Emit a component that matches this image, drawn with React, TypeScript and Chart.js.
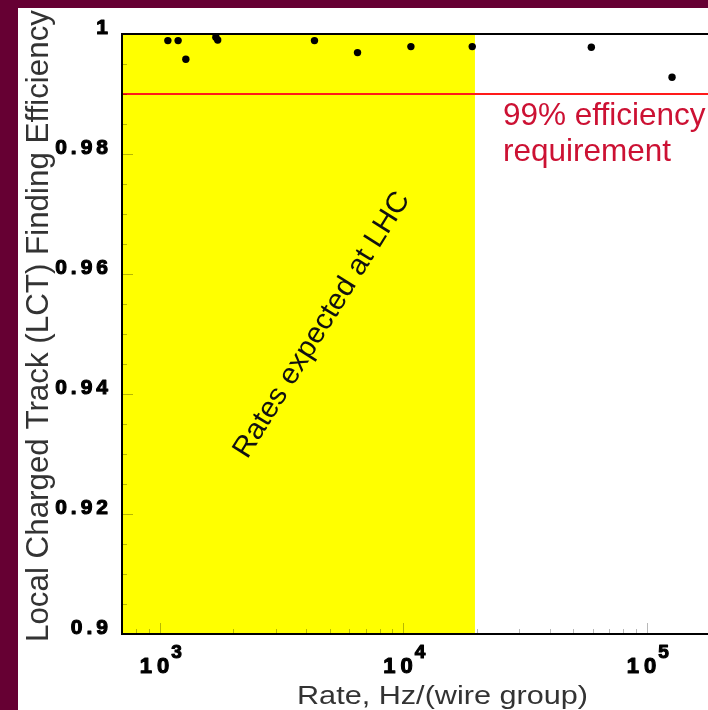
import React, { useEffect, useRef } from "react";
import { Chart, registerables } from "chart.js";

Chart.register(...registerables);

// ---- data ----
const rateHz = [1080, 1190, 1280, 1700, 1730, 4320, 6490, 10750, 19200, 59200, 127000];
const efficiency = [0.9989, 0.9989, 0.9958, 0.99945, 0.999, 0.9989, 0.9969, 0.9979, 0.9979, 0.9978, 0.9928];
const lhcRateRange = [700, 19700];
const requirementLevel = 0.99;
const xRange = [700, 333000];
const yRange = [0.9, 1.0];
const yTickValues = [0.9, 0.92, 0.94, 0.96, 0.98, 1.0];
const yTickLabels = ["0.9", "0.92", "0.94", "0.96", "0.98", "1"];
const yMinorStep = 0.005;
const xTickValues = [1000, 10000, 100000];
const xTickExponents = ["3", "4", "5"];
const xTitle = "Rate, Hz/(wire group)";
const yTitle = "Local Charged Track (LCT) Finding Efficiency";
const bandLabel = "Rates expected at LHC";
const requirementLabel = ["99% efficiency", "requirement"];

const CANVAS_W = 760;
const CANVAS_H = 702;

function spacedWidth(ctx: CanvasRenderingContext2D, text: string, spacing: number) {
  let w = 0;
  for (let i = 0; i < text.length; i++) {
    w += ctx.measureText(text[i]).width;
    if (i < text.length - 1) w += spacing;
  }
  return w;
}
function drawSpaced(ctx: CanvasRenderingContext2D, text: string, xLeft: number, y: number, spacing: number) {
  let x = xLeft;
  for (let i = 0; i < text.length; i++) {
    ctx.strokeText(text[i], x, y);
    ctx.fillText(text[i], x, y);
    x += ctx.measureText(text[i]).width + spacing;
  }
}

const decorPlugin = {
  id: "decor",
  afterDraw(chart: any) {
    const ctx: CanvasRenderingContext2D = chart.ctx;
    const xs = chart.scales.x;
    const ys = chart.scales.y;
    const area = chart.chartArea;
    ctx.save();

    // minor / major ticks (inside)
    ctx.strokeStyle = "rgba(0,0,0,0.28)";
    ctx.lineWidth = 1;
    for (let v = yRange[0]; v <= yRange[1] + 1e-9; v += yMinorStep) {
      const py = Math.round(ys.getPixelForValue(v)) + 0.5;
      const major = yTickValues.some((t) => Math.abs(t - v) < 1e-6);
      ctx.beginPath();
      ctx.moveTo(area.left, py);
      ctx.lineTo(area.left + (major ? 11 : 5), py);
      ctx.stroke();
    }
    for (let e = 2; e <= 5; e++) {
      for (let m = 1; m <= 9; m++) {
        const v = m * Math.pow(10, e);
        if (v < xRange[0] || v > xRange[1]) continue;
        const px = Math.round(xs.getPixelForValue(v)) + 0.5;
        ctx.beginPath();
        ctx.moveTo(px, area.bottom);
        ctx.lineTo(px, area.bottom - (m === 1 ? 11 : 5));
        ctx.stroke();
      }
    }

    // frame
    ctx.strokeStyle = "#000";
    ctx.lineWidth = 2;
    ctx.beginPath();
    ctx.moveTo(area.right, area.top);
    ctx.lineTo(area.left, area.top);
    ctx.lineTo(area.left, area.bottom);
    ctx.lineTo(area.right, area.bottom);
    ctx.stroke();

    // y tick labels
    ctx.fillStyle = "#000";
    ctx.strokeStyle = "#000";
    ctx.lineWidth = 1.1;
    ctx.lineJoin = "round";
    ctx.font = "bold 21px 'Liberation Sans', Arial, sans-serif";
    ctx.textBaseline = "middle";
    ctx.textAlign = "left";
    yTickValues.forEach((v, i) => {
      const py = ys.getPixelForValue(v) - 6;
      const w = spacedWidth(ctx, yTickLabels[i], 4);
      drawSpaced(ctx, yTickLabels[i], 90 - w, py, 4);
    });

    // x tick labels 10^n
    xTickValues.forEach((v, i) => {
      const px = xs.getPixelForValue(v);
      ctx.font = "bold 22px 'Liberation Sans', Arial, sans-serif";
      const wBase = spacedWidth(ctx, "10", 5);
      ctx.font = "bold 19px 'Liberation Sans', Arial, sans-serif";
      const wExp = ctx.measureText(xTickExponents[i]).width;
      const total = wBase + 2 + wExp;
      const left = px - total / 2 + 1;
      ctx.textBaseline = "alphabetic";
      ctx.font = "bold 22px 'Liberation Sans', Arial, sans-serif";
      drawSpaced(ctx, "10", left, area.bottom + 39, 5);
      ctx.font = "bold 19px 'Liberation Sans', Arial, sans-serif";
      ctx.strokeText(xTickExponents[i], left + wBase + 2, area.bottom + 24);
      ctx.fillText(xTickExponents[i], left + wBase + 2, area.bottom + 24);
    });

    // x title
    ctx.fillStyle = "#333";
    ctx.font = "26px 'Liberation Sans', Arial, sans-serif";
    ctx.textAlign = "center";
    ctx.textBaseline = "alphabetic";
    {
      const w = ctx.measureText(xTitle).width;
      ctx.save();
      ctx.translate(424.5, 696);
      ctx.scale(291 / w, 1);
      ctx.fillText(xTitle, 0, 0);
      ctx.restore();
    }

    // y title
    ctx.font = "31px 'Liberation Sans', Arial, sans-serif";
    {
      const w = ctx.measureText(yTitle).width;
      ctx.save();
      ctx.translate(21, 318);
      ctx.rotate(-Math.PI / 2);
      ctx.scale(632 / w, 1);
      ctx.textBaseline = "middle";
      ctx.fillText(yTitle, 0, 0);
      ctx.restore();
    }

    // band label (rotated)
    ctx.fillStyle = "#111";
    ctx.font = "29px 'Liberation Sans', Arial, sans-serif";
    {
      const w = ctx.measureText(bandLabel).width;
      ctx.save();
      ctx.translate(304, 317);
      ctx.rotate((-58 * Math.PI) / 180);
      ctx.scale(308 / w, 1);
      ctx.textBaseline = "middle";
      ctx.textAlign = "center";
      ctx.fillText(bandLabel, 0, 0);
      ctx.restore();
    }

    // requirement label
    ctx.fillStyle = "#cc1133";
    ctx.font = "31.5px 'Liberation Sans', Arial, sans-serif";
    ctx.textAlign = "left";
    ctx.textBaseline = "alphabetic";
    const ry = ys.getPixelForValue(requirementLevel);
    ctx.fillText(requirementLabel[0], 485, ry + 31);
    ctx.fillText(requirementLabel[1], 485, ry + 67);

    ctx.restore();
  },
};

export default function App() {
  const canvasRef = useRef<HTMLCanvasElement | null>(null);

  useEffect(() => {
    const canvas = canvasRef.current;
    if (!canvas) return;
    const chart = new Chart(canvas, {
      type: "line",
      data: {
        datasets: [
          {
            label: "LHC band",
            data: lhcRateRange.map((x) => ({ x, y: yRange[1] })),
            fill: "start",
            backgroundColor: "#ffff00",
            borderWidth: 0,
            pointRadius: 0,
            order: 3,
          },
          {
            label: "requirement",
            data: xRange.map((x) => ({ x, y: requirementLevel })),
            borderColor: "#ff1a1a",
            borderWidth: 2,
            pointRadius: 0,
            fill: false,
            order: 2,
          },
          {
            label: "efficiency",
            data: rateHz.map((x, i) => ({ x, y: efficiency[i] })),
            showLine: false,
            pointRadius: 3.7,
            pointBackgroundColor: "#000",
            pointBorderWidth: 0,
            borderColor: "#000",
            order: 1,
            clip: false as any,
          },
        ],
      },
      options: {
        animation: false,
        responsive: false,
        maintainAspectRatio: false,
        devicePixelRatio: 1,
        layout: { padding: { left: 104, top: 26, right: 0, bottom: 76 } },
        plugins: { legend: { display: false }, tooltip: { enabled: false } },
        scales: {
          x: { type: "logarithmic", min: xRange[0], max: xRange[1], display: false },
          y: { type: "linear", min: yRange[0], max: yRange[1], display: false },
        },
      },
      plugins: [decorPlugin],
    });
    return () => chart.destroy();
  }, []);

  return (
    <div style={{ position: "fixed", left: 0, top: 0, width: 708, height: 710, background: "#660033", overflow: "hidden" }}>
      <div style={{ position: "absolute", left: 18, top: 8, width: 690, height: 702, background: "#fff", overflow: "hidden" }}>
        <canvas ref={canvasRef} width={CANVAS_W} height={CANVAS_H} style={{ display: "block", width: CANVAS_W, height: CANVAS_H }} />
      </div>
    </div>
  );
}
